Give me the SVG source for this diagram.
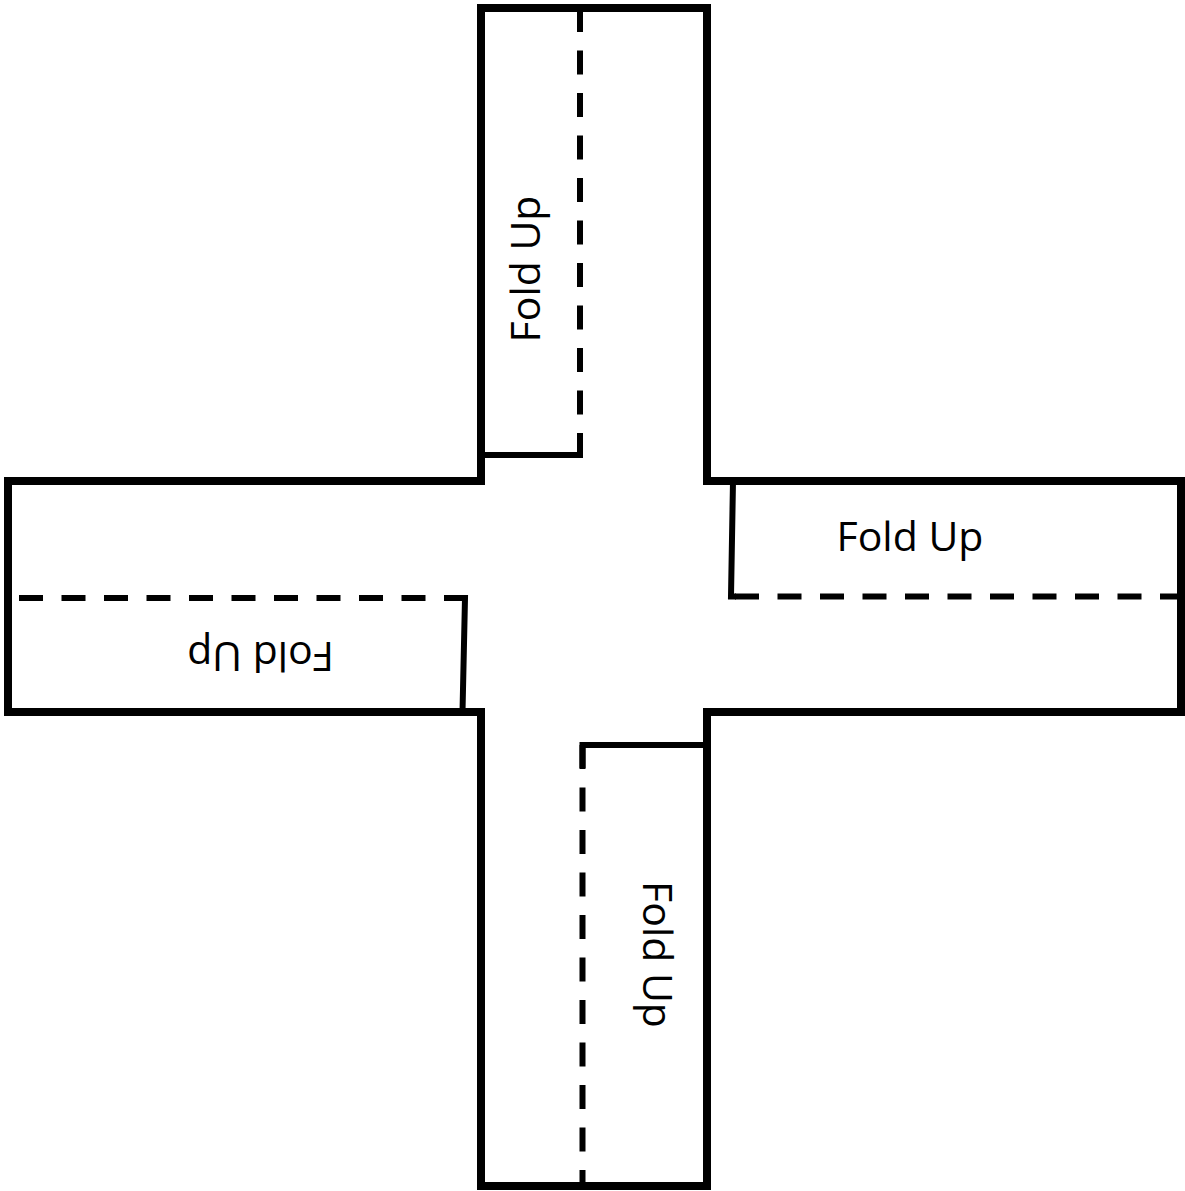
<svg xmlns="http://www.w3.org/2000/svg" width="1185" height="1191" viewBox="0 0 1185 1191">
<style>
.outline{fill:none;stroke:#000;stroke-width:8;stroke-linejoin:miter}
.fold{fill:none;stroke:#000;stroke-width:6}
.dash{fill:none;stroke:#000;stroke-width:6;stroke-dasharray:24 18.5}
.lbl{font-family:"Open Sans","Noto Sans",sans-serif;font-size:41px;fill:#000;text-anchor:middle}
</style>
<rect width="1185" height="1191" fill="#fff"/>
<g id="cross">
<path class="outline" d="M481,8 H707 V481 H1181 V712 H707 V1186 H481 V712 H8 V481 H481 Z"/>
</g>
<g id="connectors">
<path class="fold" d="M481,455 H583"/>
<path class="dash" d="M580,8 V453"/>
<path class="fold" d="M733,481 L731,596.5 H736"/>
<path class="dash" d="M735,596.5 H1181"/>
<path class="dash" d="M19,598 H467"/>
<path class="fold" d="M444,598 H465 L462.5,712"/>
<path class="fold" d="M582.5,768 V745 H707"/>
<path class="dash" d="M582.5,745 V1186"/>
</g>
<g id="label-top"><text class="lbl" transform="translate(540,269) rotate(-90)">Fold Up</text></g>
<g id="label-right"><text class="lbl" x="910" y="551">Fold Up</text></g>
<g id="label-left"><text class="lbl" transform="translate(260.5,642) rotate(180)">Fold Up</text></g>
<g id="label-bottom"><text class="lbl" transform="translate(643,954.5) rotate(90)">Fold Up</text></g>
</svg>
